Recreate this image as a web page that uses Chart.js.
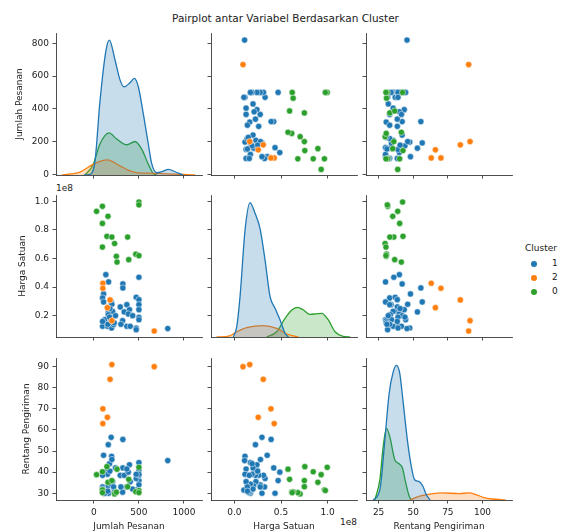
<!DOCTYPE html>
<html>
<head>
<meta charset="utf-8">
<script src="https://cdn.jsdelivr.net/npm/chart.js@4.4.1/dist/chart.umd.min.js"></script>
<style>
  body { margin: 0; background: #fff; font-family: "DejaVu Sans", sans-serif; }
  #wrap { position: relative; width: 563px; height: 531px; overflow: hidden; }
  #wrap canvas { position: absolute; }
  .txt { position: absolute; color: #222; font-size: 9px; line-height: 11px; white-space: nowrap; }
  .dot { position: absolute; width: 6px; height: 6px; border-radius: 50%; }
</style>
</head>
<body>
<div id="wrap">
  <div class="txt" style="left:0; width:571px; top:12px; text-align:center; font-size:10.5px; line-height:12px;">Pairplot antar Variabel Berdasarkan Cluster</div>
  <div class="txt" style="left:56px; top:183px;">1e8</div>
  <div class="txt" style="left:300px; width:57px; text-align:right; top:517px;">1e8</div>
  <div class="txt" style="left:525px; top:243px;">Cluster</div>
  <div class="dot" style="left:531px; top:261px; background:#1f77b4;"></div>
  <div class="txt" style="left:552px; top:258px;">1</div>
  <div class="dot" style="left:531px; top:275px; background:#ff7f0e;"></div>
  <div class="txt" style="left:552px; top:272px;">2</div>
  <div class="dot" style="left:531px; top:289px; background:#2ca02c;"></div>
  <div class="txt" style="left:552px; top:286px;">0</div>
</div>
<script>
// cluster labels in legend order and their colours
const clusterOrder = ['1', '2', '0'];
const clusterColors = ['31,119,180', '255,127,14', '44,160,44'];

// one entry per order
const cluster = [
  '1','1','1','1','1','1','1','1','1','1','1','1','1','1','1','1','1','1','1','1','1','1',
  '1','1','1','1','1','1','1','1','1','1','1','1','1','1','1','1','1','1','1','1','1','1',
  '2','2','2','2','2','2',
  '0','0','0','0','0','0','0','0','0','0','0','0','0','0','0','0'
];
const jumlahPesanan = [
  133, 163, 500, 322, 322, 108, 97, 108, 192, 470, 500, 500, 500, 366, 293, 395, 337, 160, 382, 208, 160, 122,
  189, 240, 500, 500, 319, 97, 152, 197, 219, 366, 404, 470, 470, 820, 174, 226, 430, 200, 178, 300, 155, 97,
  100, 100, 180, 150, 200, 670,
  30, 95, 157, 95, 500, 500, 145, 200, 230, 375, 95, 250, 257, 387, 465, 500
];
// harga satuan in units of 1e8
const hargaSatuan = [
  0.487, 0.436, 0.469, 0.422, 0.394, 0.352, 0.324, 0.296, 0.296, 0.329, 0.312, 0.277, 0.242, 0.277, 0.261, 0.242, 0.226, 0.226, 0.212, 0.231, 0.207, 0.172,
  0.172, 0.200, 0.189, 0.172, 0.165, 0.126, 0.126, 0.114, 0.137, 0.126, 0.126, 0.114, 0.102, 0.110, 0.190, 0.150, 0.200, 0.280, 0.250, 0.140, 0.140, 0.160,
  0.427, 0.392, 0.310, 0.256, 0.165, 0.093,
  0.930, 0.965, 0.895, 0.845, 0.995, 0.975, 0.755, 0.750, 0.705, 0.750, 0.680, 0.615, 0.575, 0.592, 0.630, 0.620
];
const rentangPengiriman = [
  40, 30, 36, 42, 55.5, 48, 33, 30, 56.5, 37, 38.5, 34, 41, 33, 38.5, 43.5, 38.5, 53, 40, 35.5, 33.5, 30,
  34.3, 42, 39, 44.5, 30.5, 32, 39, 47.5, 33, 41.5, 35.5, 39, 31.5, 45.5, 44, 30.5, 32, 46, 40.5, 33, 31, 38.5,
  63, 70, 84, 66, 91, 90,
  38.8, 31.6, 35.2, 40.2, 42.3, 31.3, 42.6, 36, 29.7, 33.1, 30.3, 30.5, 41.4, 36.6, 30.7, 30.3
];

// density curves on the diagonal: [value, height as share of the panel]
const kdeJumlah1 = [[-110,0],[-40,0.005],[13,0.10],[68,0.52],[135,0.88],[172,0.95],[235,0.81],[290,0.67],[335,0.62],[401,0.65],[449,0.68],[494,0.62],[549,0.43],[604,0.22],[642,0.08],[698,0.016],[753,0.023],[827,0.04],[901,0.023],[993,0]];
const kdeJumlah2 = [[-357,0],[-250,0.008],[-154,0.02],[-6,0.076],[149,0.106],[290,0.064],[380,0.035],[475,0.017],[657,0.012],[823,0.008],[1000,0.004],[1123,0]];
const kdeJumlah0 = [[-98,0],[-6,0.076],[68,0.218],[168,0.296],[254,0.253],[365,0.213],[457,0.236],[531,0.182],[604,0.076],[660,0.01],[698,0]];
const kdeHarga1 = [[-0.01,0],[0.026,0.073],[0.061,0.284],[0.115,0.754],[0.168,0.946],[0.222,0.871],[0.275,0.765],[0.329,0.542],[0.383,0.284],[0.436,0.202],[0.49,0.12],[0.543,0.026],[0.579,0]];
const kdeHarga2 = [[-0.19,0],[-0.05,0.008],[0.026,0.037],[0.133,0.066],[0.311,0.08],[0.454,0.061],[0.561,0.021],[0.686,0]];
const kdeHarga0 = [[0.347,0],[0.454,0.037],[0.543,0.131],[0.615,0.19],[0.675,0.209],[0.74,0.19],[0.811,0.16],[0.87,0.163],[0.936,0.167],[1.007,0.12],[1.079,0.037],[1.168,0.005],[1.24,0]];
const kdeRentang1 = [[21.1,0],[25.9,0.073],[29.5,0.42],[32.6,0.75],[35.5,0.9],[37.9,0.948],[40.3,0.89],[42.6,0.70],[45.8,0.42],[48.6,0.236],[51,0.143],[54.1,0.131],[57,0.097],[59.4,0.038],[62.2,0]];
const kdeRentang2 = [[47.4,0],[54.6,0.027],[64.1,0.045],[71.3,0.05],[83.2,0.045],[90.4,0.05],[95.2,0.038],[101.1,0.017],[107.1,0.007],[116.7,0]];
const kdeRentang0 = [[22.3,0],[25.9,0.143],[28.3,0.376],[30.7,0.505],[33.1,0.446],[36.7,0.283],[39.8,0.255],[42.2,0.225],[44.6,0.12],[47,0.03],[48.6,0]];

// tick labels
const jumlahXTicks = [0, 500, 1000];
const jumlahYTicks = [0, 200, 400, 600, 800];
const hargaXTicks = [0, 0.5, 1.0];
const hargaYTicks = [0.2, 0.4, 0.6, 0.8, 1.0];
const rentangXTicks = [25, 50, 75, 100];
const rentangYTicks = [30, 40, 50, 60, 70, 80, 90];

const variables = [
  { label: 'Jumlah Pesanan', values: jumlahPesanan, kde: [kdeJumlah1, kdeJumlah2, kdeJumlah0],
    xMin: -420, xMax: 1200, yMin: -4, yMax: 863, xTicks: jumlahXTicks, yTicks: jumlahYTicks, fmt: v => String(v), titlePad: 14 },
  { label: 'Harga Satuan', values: hargaSatuan, kde: [kdeHarga1, kdeHarga2, kdeHarga0],
    xMin: -0.25, xMax: 1.314, yMin: 0.051, yMax: 1.044, xTicks: hargaXTicks, yTicks: hargaYTicks, fmt: v => v.toFixed(1), titlePad: 17 },
  { label: 'Rentang Pengiriman', values: rentangPengiriman, kde: [kdeRentang1, kdeRentang2, kdeRentang0],
    xMin: 15.9, xMax: 121.3, yMin: 26.8, yMax: 94.1, xTicks: rentangXTicks, yTicks: rentangYTicks, fmt: v => String(v), titlePad: 21 }
];

const COL_LEFT = [56, 211, 366];
const ROW_TOP = [33, 195, 358];
const PW = 146, PH = 142;
const PAD_L = 56, PAD_T = 10, PAD_R = 6, PAD_B = 40;
const FONT = { family: '"DejaVu Sans", sans-serif', size: 9 };
const INK = '#222';

function axis(v, horizontal, showLabels, showTitle, ticksList) {
  return {
    type: 'linear',
    min: horizontal ? v.xMin : v.yMin,
    max: horizontal ? v.xMax : v.yMax,
    afterBuildTicks: s => { s.ticks = ticksList.map(t => ({ value: t })); },
    afterFit: s => { if (horizontal) s.height = PAD_B; else s.width = PAD_L; },
    grid: { drawOnChartArea: false, drawTicks: true, tickLength: 3.5, color: INK, lineWidth: 0.8 },
    border: { display: true, color: INK, width: 0.8 },
    ticks: {
      autoSkip: false, maxRotation: 0, padding: 3.5,
      color: showLabels ? INK : 'rgba(0,0,0,0)', font: FONT,
      callback: val => v.fmt(val)
    },
    title: {
      display: showTitle, text: v.label, color: INK, font: FONT,
      padding: horizontal ? { top: 0, bottom: 8 } : { top: v.titlePad, bottom: 0 }
    }
  };
}

function makeCell(r, c) {
  const xv = variables[c], yv = variables[r];
  const canvas = document.createElement('canvas');
  canvas.width = PAD_L + PW + PAD_R;
  canvas.height = PAD_T + PH + PAD_B;
  canvas.style.left = (COL_LEFT[c] - PAD_L) + 'px';
  canvas.style.top = (ROW_TOP[r] - PAD_T) + 'px';
  document.getElementById('wrap').appendChild(canvas);

  let datasets;
  if (r === c) {
    datasets = clusterOrder.map((k, i) => ({
      type: 'line',
      label: k,
      data: xv.kde[i].map(p => ({ x: p[0], y: p[1] })),
      yAxisID: 'yk',
      showLine: true,
      borderColor: `rgb(${clusterColors[i]})`,
      backgroundColor: `rgba(${clusterColors[i]},0.25)`,
      borderWidth: 1.3,
      fill: 'origin',
      pointRadius: 0,
      tension: 0.4,
      cubicInterpolationMode: 'monotone'
    }));
  } else {
    datasets = clusterOrder.map((k, i) => ({
      type: 'scatter',
      label: k,
      data: cluster.map((cl, j) => cl === k ? { x: xv.values[j], y: yv.values[j] } : null).filter(p => p),
      showLine: false,
      pointRadius: 3.1,
      pointBackgroundColor: `rgb(${clusterColors[i]})`,
      pointBorderColor: '#fff',
      pointBorderWidth: 0.5,
      order: [2, 0, 1][i]
    }));
  }

  new Chart(canvas, {
    type: 'scatter',
    data: { datasets },
    options: {
      responsive: false,
      animation: false,
      layout: { padding: { top: PAD_T, right: PAD_R, left: 0, bottom: 0 } },
      plugins: { legend: { display: false }, tooltip: { enabled: false } },
      scales: {
        x: axis(xv, true, r === 2, r === 2, xv.xTicks),
        y: axis(yv, false, c === 0, c === 0, yv.yTicks),
        yk: { type: 'linear', display: false, min: 0, max: 1 }
      }
    }
  });
}

for (let r = 0; r < 3; r++) {
  for (let c = 0; c < 3; c++) {
    makeCell(r, c);
  }
}
</script>
</body>
</html>
